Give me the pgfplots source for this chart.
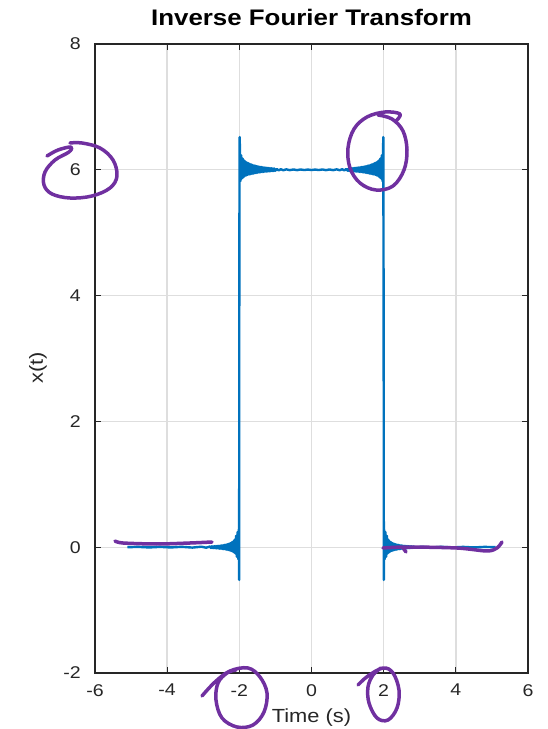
\documentclass[border=0pt]{standalone}
\usepackage{pgfplots}
\usepackage{pgfplotstable}
\pgfplotsset{compat=1.18}
\usepackage{fontspec}
\setmainfont{Liberation Sans}[FakeStretch=1.15]
\definecolor{mlblue}{RGB}{0,114,189}
\definecolor{ink}{RGB}{112,48,160}
\definecolor{gridgray}{RGB}{222,222,222}
\definecolor{axgray}{RGB}{38,38,38}

% reconstructed rectangular pulse (height 6, -2 <= t <= 2) with Gibbs ringing
\pgfplotstableread{
t x
-5.10 0.00
-4.80 0.005
-4.50 -0.004
-4.20 0.005
-3.90 -0.004
-3.60 0.006
-3.30 -0.006
-3.05 0.008
-2.92 -0.008
-2.81 0.012
-2.79 -0.012
-2.77 0.013
-2.75 -0.013
-2.73 0.014
-2.71 -0.014
-2.69 0.016
-2.67 -0.016
-2.65 0.018
-2.63 -0.018
-2.61 0.02
-2.59 -0.02
-2.57 0.022
-2.55 -0.022
-2.53 0.025
-2.51 -0.025
-2.49 0.028
-2.47 -0.028
-2.45 0.032
-2.43 -0.031
-2.41 0.036
-2.39 -0.035
-2.37 0.041
-2.35 -0.039
-2.33 0.047
-2.31 -0.044
-2.29 0.054
-2.27 -0.05
-2.25 0.064
-2.23 -0.058
-2.21 0.076
-2.19 -0.068
-2.17 0.093
-2.15 -0.082
-2.13 0.12
-2.11 -0.10
-2.09 0.18
-2.07 -0.15
-2.05 0.24
-2.03 -0.19
-2.01 0.30
-2.005 -0.52
-2.000 4.72
-1.99 6.52
-1.97 5.82
-1.95 6.23
-1.93 5.86
-1.91 6.18
-1.89 5.88
-1.87 6.15
-1.85 5.90
-1.83 6.13
-1.81 5.91
-1.79 6.115
-1.77 5.92
-1.75 6.105
-1.73 5.925
-1.71 6.095
-1.69 5.93
-1.67 6.085
-1.65 5.935
-1.63 6.077
-1.61 5.94
-1.59 6.07
-1.57 5.945
-1.55 6.064
-1.53 5.95
-1.51 6.057
-1.49 5.954
-1.47 6.052
-1.45 5.958
-1.43 6.048
-1.41 5.961
-1.39 6.044
-1.37 5.964
-1.35 6.04
-1.33 5.967
-1.31 6.037
-1.29 5.97
-1.27 6.034
-1.25 5.972
-1.23 6.031
-1.21 5.974
-1.19 6.028
-1.17 5.976
-1.15 6.026
-1.13 5.978
-1.11 6.024
-1.09 5.98
-1.07 6.022
-1.05 5.982
-1.03 6.02
-1.01 5.984
-0.96 6.012
-0.91 5.99
-0.85 6.009
-0.78 5.993
-0.70 6.007
-0.60 5.995
-0.50 6.005
-0.40 5.995
-0.30 6.005
-0.20 5.996
-0.10 6.004
0.00 5.996
0.10 6.004
0.20 5.996
0.30 6.005
0.40 5.995
0.50 6.005
0.60 5.995
0.70 6.007
0.78 5.993
0.85 6.009
0.91 5.99
0.96 6.012
1.01 5.984
1.03 6.02
1.05 5.982
1.07 6.022
1.09 5.98
1.11 6.024
1.13 5.978
1.15 6.026
1.17 5.976
1.19 6.028
1.21 5.974
1.23 6.031
1.25 5.972
1.27 6.034
1.29 5.97
1.31 6.037
1.33 5.967
1.35 6.04
1.37 5.964
1.39 6.044
1.41 5.961
1.43 6.048
1.45 5.958
1.47 6.052
1.49 5.954
1.51 6.057
1.53 5.95
1.55 6.064
1.57 5.945
1.59 6.07
1.61 5.94
1.63 6.077
1.65 5.935
1.67 6.085
1.69 5.93
1.71 6.095
1.73 5.925
1.75 6.105
1.77 5.92
1.79 6.115
1.81 5.91
1.83 6.13
1.85 5.90
1.87 6.15
1.89 5.88
1.91 6.18
1.93 5.86
1.95 6.23
1.97 5.82
1.99 6.52
2.000 3.50
2.005 -0.52
2.01 0.30
2.03 -0.19
2.05 0.24
2.07 -0.15
2.09 0.18
2.11 -0.10
2.13 0.12
2.15 -0.082
2.17 0.093
2.19 -0.068
2.21 0.076
2.23 -0.058
2.25 0.064
2.27 -0.05
2.29 0.054
2.31 -0.044
2.33 0.047
2.35 -0.039
2.37 0.041
2.39 -0.035
2.41 0.036
2.43 -0.031
2.45 0.032
2.47 -0.028
2.49 0.028
2.51 -0.025
2.53 0.025
2.55 -0.022
2.57 0.022
2.59 -0.02
2.61 0.02
2.63 -0.018
2.65 0.018
2.67 -0.016
2.69 0.016
2.71 -0.014
2.73 0.014
2.75 -0.013
2.77 0.013
2.79 -0.012
2.81 0.012
2.92 -0.008
3.05 0.008
3.30 -0.006
3.60 0.006
3.90 -0.004
4.20 0.005
4.50 -0.004
4.80 0.005
5.10 0.00
}\signal

\begin{document}
\begin{tikzpicture}
\path[use as bounding box] (-95pt,-56pt) rectangle (452pt,673pt);
\begin{axis}[
  at={(0,0)}, anchor=south west,
  scale only axis, width=433pt, height=629pt,
  xmin=-6, xmax=6, ymin=-2, ymax=8,
  xtick={-6,-4,...,6}, ytick={-2,0,...,8},
  grid=major,
  major grid style={gridgray, line width=1.4pt},
  axis line style={axgray, line width=1.3pt},
  tick style={axgray, line width=1.3pt},
  major tick length=6pt,
  tick align=inside,
  /pgf/number format/assume math mode=true,
  ticklabel style={font=\fontsize{17}{17}\selectfont, text=axgray},
  xticklabel style={inner sep=0pt, anchor=north, yshift=-11pt},
  yticklabel style={inner sep=0pt, anchor=east, xshift=-14pt},
  title={Inverse Fourier Transform},
  title style={font=\fontsize{22.5}{23}\selectfont\bfseries, text=black,
    inner sep=0pt, at={(axis description cs:0.5,1)}, anchor=base, yshift=12pt},
  xlabel={Time (s)}, ylabel={x(t)},
  xlabel style={font=\fontsize{19}{19}\selectfont, text=axgray,
    at={(axis description cs:0.5,0)}, anchor=base, yshift=-49pt},
  ylabel style={font=\fontsize{19}{19}\selectfont, text=axgray,
    at={(axis description cs:-0.1316,0.485)}, anchor=center},
]
\addplot[mlblue, line width=2.4pt, line join=round] table[x=t, y=x] {\signal};
\end{axis}

% hand-drawn ink marks
\begin{scope}[x=1pt, y=-1pt, shift={(-95pt,673pt)}, ink, line width=3.5pt,
  line cap=round, line join=round]
  % around the 6 tick label
  \draw plot[smooth, tension=0.6] coordinates {(47,156) (58,150) (71,147) (69,152)
    (55,160) (45,172) (44,185) (52,194) (70,198) (92,196) (110,188) (117,176)
    (113,160) (100,148) (82,143) (70,143)};
  % around the overshoot at t = 2
  \draw plot[smooth, tension=0.6] coordinates {(396,121) (400,114) (385,112)
    (367,117) (354,129) (348,148) (350,168) (360,183) (376,190) (393,186)
    (404,170) (407,150) (403,131) (392,119) (378,115)};
  % around the -2 tick label
  \draw plot[smooth, tension=0.6] coordinates {(202,696) (215,682) (230,671)
    (248,668) (260,677) (267,693) (264,712) (253,725) (237,727) (222,718)
    (216,700) (218,683) (227,673) (236,670)};
  % around the 2 tick label
  \draw plot[smooth, tension=0.6] coordinates {(358,685) (368,676) (383,668)
    (393,673) (399,690) (397,708) (388,720) (377,718) (369,703) (368,687)
    (373,675) (381,668)};
  % underlines along the zero level
  \draw plot[smooth, tension=0.5] coordinates {(115,541) (123,543) (157,544)
    (190,543) (212,542)};
  \draw plot[smooth, tension=0.5] coordinates {(383,548) (407,547) (457,548)
    (487,551) (497,548) (502,542)};
  \draw (403,548) -- (406,552);
\end{scope}
\end{tikzpicture}
\end{document}
